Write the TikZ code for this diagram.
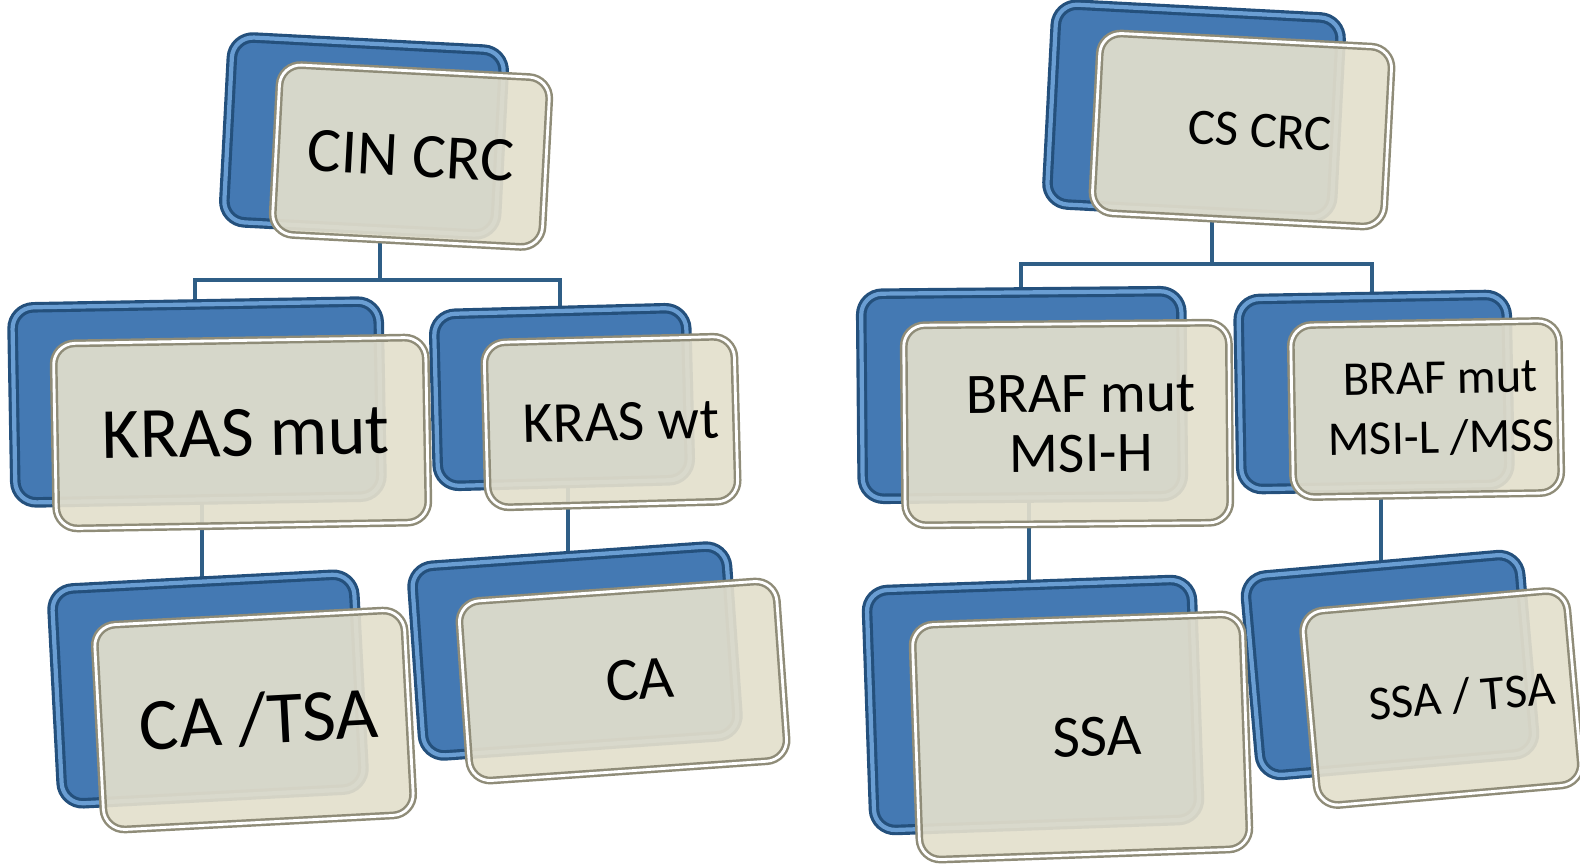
\documentclass[tikz,border=0pt]{standalone}
\usepackage{fontspec}
\setmainfont{Carlito}
\usepackage{xcolor}
\usepackage{tikz}
\usetikzlibrary{positioning,backgrounds}
\definecolor{boxblue}{HTML}{4479B3}
\definecolor{boxedge}{HTML}{24507C}
\definecolor{boxrim}{HTML}{6A9ED3}
\definecolor{cardfill}{HTML}{E3DFCC}
\definecolor{cardedge}{HTML}{8F8C78}
\definecolor{treeblue}{HTML}{2F5E86}
\tikzset{
  backbox/.style={
    rectangle, rounded corners=6pt, draw=boxedge, fill=boxblue,
    line width=0.9pt, double=boxrim, double distance=1.2pt, inner sep=0pt
  },
  frontbox/.style={
    rectangle, rounded corners=6pt, draw=cardedge, fill=cardfill,
    line width=0.7pt, double=white, double distance=0.8pt,
    fill opacity=0.92, text opacity=1,
    align=center, inner sep=0pt, text=black,
    font=\fontsize{#1}{17}\selectfont
  },
  frontbox/.default=18,
  treeline/.style={draw=treeblue, line width=1.1pt},
}

\begin{document}
\begin{tikzpicture}[x=0.01cm, y=-0.01cm]
  \useasboundingbox (0,0) rectangle (1580,866);
  % blue back panels
  \node[backbox, minimum width=2.72cm, minimum height=1.85cm, rotate=-3] (cinB) at (364,136) {};
  \node[backbox, minimum width=3.66cm, minimum height=1.95cm, rotate=1] (krasmutB) at (197,402) {};
  \node[backbox, minimum width=2.52cm, minimum height=1.72cm, rotate=1.5] (kraswtB) at (562,397) {};
  \node[backbox, minimum width=3.02cm, minimum height=2.15cm, rotate=3] (catsaB) at (208,689) {};
  \node[backbox, minimum width=3.15cm, minimum height=1.90cm, rotate=4] (caB) at (575,651) {};
  \node[backbox, minimum width=2.85cm, minimum height=2.00cm, rotate=-3] (csB) at (1194,111) {};
  \node[backbox, minimum width=3.20cm, minimum height=2.05cm, rotate=0.5] (brafhB) at (1022,395) {};
  \node[backbox, minimum width=2.68cm, minimum height=1.90cm, rotate=1] (braflB) at (1374,392) {};
  \node[backbox, minimum width=3.25cm, minimum height=2.40cm, rotate=2] (ssaB) at (1033,705) {};
  \node[backbox, minimum width=2.75cm, minimum height=2.00cm, rotate=5] (ssatsaB) at (1390,665) {};
  % front cards
  \node[frontbox=18, minimum width=2.70cm, minimum height=1.70cm, rotate=-3] (cin) at (411,156) {CIN CRC};
  \node[frontbox=20.5, minimum width=3.72cm, minimum height=1.85cm, rotate=1] (krasmut) at (241,433) {\hspace*{0.1cm}KRAS mut};
  \node[frontbox=16.5, minimum width=2.50cm, minimum height=1.65cm, rotate=1.5] (kraswt) at (611,422) {\hspace*{0.2cm}KRAS wt};
  \node[frontbox=21, minimum width=3.10cm, minimum height=2.05cm, rotate=3] (catsa) at (254,720) {\hspace*{0.1cm}CA /TSA};
  \node[frontbox=17.5, minimum width=3.18cm, minimum height=1.80cm, rotate=4] (ca) at (623,681) {\hspace*{0.34cm}CA};
  \node[frontbox=14.5, minimum width=2.92cm, minimum height=1.80cm, rotate=-3] (cs) at (1242,130) {\hspace*{0.36cm}CS CRC};
  \node[frontbox=16.3, minimum width=3.25cm, minimum height=2.00cm, rotate=0.5] (brafh) at (1067,424) {\hspace*{0.28cm}BRAF mut\\\hspace*{0.28cm}MSI-H};
  \node[frontbox=13.8, minimum width=2.68cm, minimum height=1.72cm, rotate=1] (brafl) at (1426,409) {\hspace*{0.3cm}BRAF mut\\\hspace*{0.3cm}MSI-L /MSS};
  \node[frontbox=17, minimum width=3.30cm, minimum height=2.35cm, rotate=2] (ssa) at (1081,737) {\hspace*{0.32cm}SSA};
  \node[frontbox=13.8, minimum width=2.65cm, minimum height=1.95cm, rotate=5] (ssatsa) at (1442,698) {\hspace*{0.4cm}SSA / TSA};
  % tree lines behind the cards
  \coordinate (cinfork) at (380,280);
  \coordinate (csfork) at (1212,264);
  \begin{scope}[on background layer]
    \draw[treeline] (cinfork |- cin.center) -- (cinfork);
    \draw[treeline] (cinfork) -| (krasmutB.north);
    \draw[treeline] (cinfork) -| (kraswtB.north);
    \draw[treeline] (csfork |- cs.center) -- (csfork);
    \draw[treeline] (csfork) -| (brafhB.north);
    \draw[treeline] (csfork) -| (braflB.north);
    \draw[treeline] (catsaB.north |- krasmut.center) -- (catsaB.north);
    \draw[treeline] (caB.north |- kraswt.center) -- (caB.north);
    \draw[treeline] (ssaB.north |- brafh.center) -- (ssaB.north);
    \draw[treeline] (ssatsaB.north |- brafl.center) -- (ssatsaB.north);
  \end{scope}
\end{tikzpicture}
\end{document}
